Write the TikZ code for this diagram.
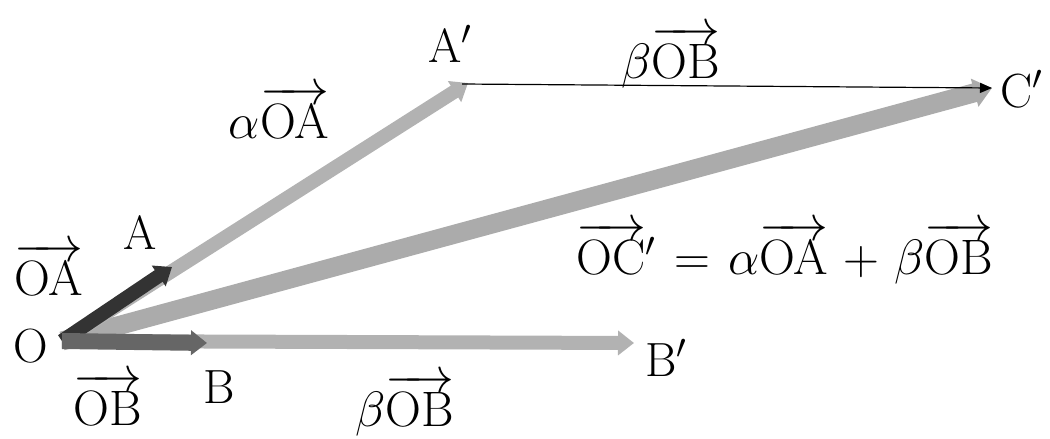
\documentclass[tikz,border=0pt]{standalone}
\usepackage{amsmath}
\usetikzlibrary{arrows.meta}
\thickmuskip=6.5mu\relax
\medmuskip=5.5mu\relax
\begin{document}
\begin{tikzpicture}[x=0.5pt,y=-0.5pt,
  lbl/.style={inner sep=0pt,font=\fontsize{24}{28}\selectfont},
  lightvec/.style={draw=black!30,line width=7pt,-{Triangle[length=8pt,width=12pt]}},
  bigvec/.style={draw=black!33,line width=9.5pt,-{Triangle[length=9pt,width=14pt]}},
  darkvec/.style={draw=black!80,line width=7pt,-{Triangle[length=8pt,width=12pt]}},
  midvec/.style={draw=black!60,line width=8pt,-{Triangle[length=8pt,width=12pt]}},
  thinvec/.style={draw=black,line width=0.6pt,-{Triangle[length=6pt,width=5pt]}}]
\useasboundingbox (0,0) rectangle (1050,439);
\coordinate (O) at (62,341);
\coordinate (A) at (172,267);
\coordinate (Ap) at (468,83);
\coordinate (B) at (207,343);
\coordinate (Bp) at (634,343);
\coordinate (Cp) at (992,88);
\coordinate (ApS) at (462,84);
% vectors
\draw[bigvec] (O) -- (Cp);
\draw[lightvec] (O) -- (Ap);
\draw[lightvec] (O) -- (Bp);
\draw[darkvec] (O) -- (A);
\draw[midvec] (O) -- (B);
\draw[thinvec] (ApS) -- (Cp);
% labels
\node[lbl] (lO) at (31,346) {O};
\node[lbl] (lA) at (140,233) {A};
\node[lbl] (lOA) at (49,269) {$\overrightarrow{\mathrm{OA}}$};
\node[lbl] (lB) at (219,387) {B};
\node[lbl] (lOB) at (108,399) {$\overrightarrow{\mathrm{OB}}$};
\node[lbl] (lBp) at (666,358) {B$'$};
\node[lbl] (lbOB) at (405,405) {$\beta\overrightarrow{\mathrm{OB}}$};
\node[lbl] (laOA) at (279,112) {$\alpha\overrightarrow{\mathrm{OA}}$};
\node[lbl] (lAp) at (450,44) {A$'$};
\node[lbl] (lbOB2) at (671,57) {$\beta\overrightarrow{\mathrm{OB}}$};
\node[lbl] (lCp) at (1022,89) {C$'$};
\node[lbl] (leq) at (785,253) {$\overrightarrow{\mathrm{OC}}'=\alpha\overrightarrow{\mathrm{OA}}+\beta\overrightarrow{\mathrm{OB}}$};
\end{tikzpicture}
\end{document}
